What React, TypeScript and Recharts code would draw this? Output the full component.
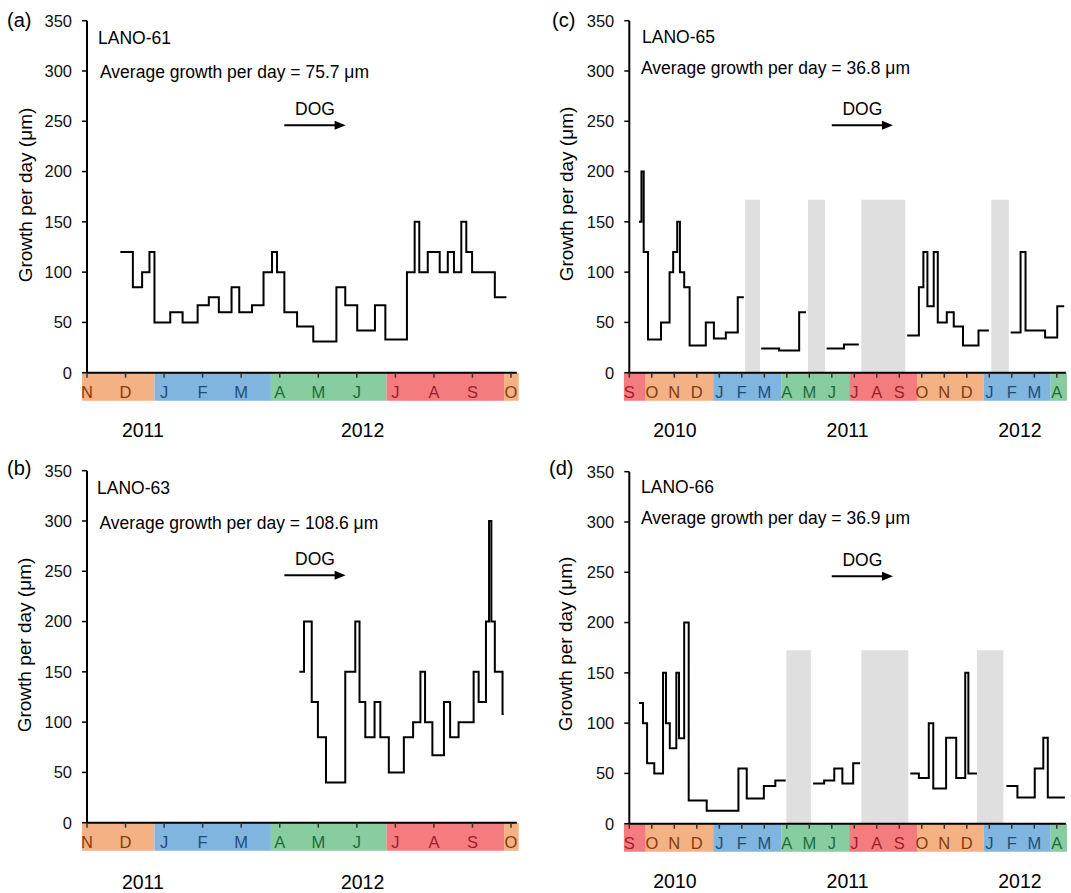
import React from 'react';
import { LineChart, Line, XAxis, YAxis, ReferenceArea, ReferenceLine } from 'recharts';

const FONT = '"Liberation Sans", Arial, Helvetica, sans-serif';

// month letters under each x axis
const monthsAB = ['N', 'D', 'J', 'F', 'M', 'A', 'M', 'J', 'J', 'A', 'S', 'O'];
const monthsCD = ['S', 'O', 'N', 'D', 'J', 'F', 'M', 'A', 'M', 'J', 'J', 'A', 'S', 'O', 'N', 'D', 'J', 'F', 'M', 'A'];

// coloured season strip: edges in month index, one season per strip
const bandEdgesAB = [-0.13, 1.75, 4.77, 7.77, 10.82, 11.2];
const bandSeasonsAB = ['OND', 'JFM', 'AMJ', 'JAS', 'OND'];
const bandEdgesCD = [-0.24, 0.73, 3.73, 6.75, 9.77, 12.79, 15.76, 18.73, 19.45];
const bandSeasonsCD = ['JAS', 'OND', 'JFM', 'AMJ', 'JAS', 'OND', 'JFM', 'AMJ'];

const seasonFill: Record<string, string> = { OND: '#F4B183', JFM: '#7FB5DF', AMJ: '#88CDA0', JAS: '#F47C7F' };
const seasonText: Record<string, string> = { OND: '#843C0C', JFM: '#1F4E79', AMJ: '#1E6B38', JAS: '#A01C28' };

// years under the strips
const yearsAB = ['2011', '2012'];
const yearPosAB = [1.45, 7.15];
const yearsCD = ['2010', '2011', '2012'];
const yearPosCD = [2.03, 9.7, 17.36];

// LANO-61 (step starts, month index -> growth per day)
const aMonths = [0.865, 1.19, 1.43, 1.62, 1.75, 2.16, 2.48, 2.87, 3.16, 3.42, 3.75, 3.95, 4.28, 4.58, 4.8, 4.93, 5.12, 5.45, 5.87, 6.47, 6.7, 7.01, 7.47, 7.74, 8.3, 8.5, 8.62, 8.84, 9.15, 9.36, 9.52, 9.71, 9.84, 9.99, 10.58, 10.88];
const aValues = [120, 85, 100, 120, 50, 60, 50, 67, 75, 60, 85, 60, 67, 100, 120, 100, 60, 46, 31, 85, 67, 42, 67, 33, 100, 150, 100, 120, 100, 120, 100, 150, 120, 100, 75, 75];

// LANO-63
const bMonths = [5.51, 5.63, 5.83, 5.99, 6.2, 6.7, 6.96, 7.07, 7.22, 7.46, 7.61, 7.83, 8.22, 8.46, 8.65, 8.77, 8.96, 9.26, 9.42, 9.64, 10.03, 10.16, 10.35, 10.43, 10.49, 10.58, 10.78, 10.81];
const bValues = [150, 200, 120, 85, 40, 150, 200, 120, 85, 120, 85, 50, 85, 100, 150, 100, 67, 120, 85, 100, 150, 120, 200, 300, 200, 150, 108, 108];

// LANO-65 (null = no record)
const cMonths = [0.43, 0.54, 0.64, 0.83, 1.41, 1.79, 1.95, 2.13, 2.25, 2.44, 2.68, 3.4, 3.76, 4.29, 4.82, 5.09, 5.4,
  5.86, 6.66, 7.55, 7.85, 8.3,
  8.77, 9.54, 10.2, 11,
  12.35, 12.87, 13.07, 13.25, 13.53, 13.71, 14.11, 14.42, 14.83, 15.52, 15.98, 16.4,
  16.95, 17.39, 17.61, 18.48, 19.02, 19.33];
const cValues = [150, 200, 120, 33, 50, 100, 120, 150, 100, 85, 27, 50, 34, 40, 75, 75, null,
  24, 22, 60, 60, null,
  24, 28, 28, null,
  37, 85, 120, 66, 120, 50, 60, 46, 27, 42, 42, null,
  40, 120, 42, 35, 66, 66];
const cGaps = [[5.15, 5.81], [7.94, 8.7], [10.31, 12.27], [16.09, 16.87]];

// LANO-66
const dMonths = [0.43, 0.61, 0.79, 1.11, 1.5, 1.63, 1.8, 2.09, 2.21, 2.44, 2.64, 3.44, 4.85, 5.22, 5.98, 6.49, 6.95, 7.5,
  8.17, 8.66, 9.11, 9.47, 9.95, 10.26, 11,
  12.49, 12.87, 13.31, 13.51, 14.08, 14.53, 14.93, 15.07, 15.45, 16,
  16.76, 17.25, 18.02, 18.4, 18.6, 19.36];
const dValues = [120, 100, 60, 50, 150, 100, 75, 150, 85, 200, 23, 13, 55, 25, 37.5, 43, 43, null,
  40, 43, 55, 40, 60, 60, null,
  50, 45.5, 100, 35, 85.5, 45.5, 150, 50, 50, null,
  37.5, 26, 55, 85.5, 26, 26];
const dGaps = [[6.98, 8.07], [10.31, 12.4], [15.45, 16.63]];

const toRows = (m: number[], v: (number | null)[]) => m.map((x, i) => ({ m: x, v: v[i] }));

const DogArrow = (p: any) => {
  const { x1, y1, x2, y2 } = p;
  return (
    <g>
      <line x1={x1} y1={y1} x2={x2 - 8} y2={y2} stroke="#000" strokeWidth={2} />
      <polygon points={`${x2},${y2} ${x2 - 11},${y2 - 4.5} ${x2 - 11},${y2 + 4.5}`} fill="#000" />
      <text x={(x1 + x2) / 2} y={y1 - 10} textAnchor="middle" fontSize={17.5} fontFamily={FONT} fill="#000">DOG</text>
    </g>
  );
};

const Txt = ({ x, base, size, children, anchor = 'start' }: any) => (
  <div style={{
    position: 'absolute', left: x, top: base - 0.8465 * size, fontSize: size, lineHeight: 1,
    whiteSpace: 'nowrap', color: '#000',
    transform: anchor === 'middle' ? 'translateX(-50%)' : undefined,
  }}>{children}</div>
);

const VTxt = ({ cx, cy, size, children }: any) => (
  <div style={{
    position: 'absolute', left: cx, top: cy, fontSize: size, lineHeight: 1, whiteSpace: 'nowrap',
    transform: 'translate(-50%, -50%) rotate(-90deg)', color: '#000',
  }}>{children}</div>
);

function Panel(props: any) {
  const { left, top, width, mLeft, mRight, xMax, months, edges, seasons, rows, gaps, gapTop, dog } = props;
  const ticks = months.map((_: string, i: number) => i);
  const seasonAt = (i: number) => {
    for (let k = 0; k < seasons.length; k++) if (i >= edges[k] && i < edges[k + 1]) return seasons[k];
    return seasons[seasons.length - 1];
  };
  const MonthTick = (t: any) => {
    const i = t.payload.value;
    return (
      <text x={t.x} y={t.y} dy="0.71em" textAnchor="middle" fontSize={16.5} fontFamily={FONT} fill={seasonText[seasonAt(i)]}>
        {months[i]}
      </text>
    );
  };
  return (
    <div style={{ position: 'absolute', left, top }}>
      <LineChart width={width} height={440} data={rows} margin={{ top: 20.7, right: mRight, bottom: 37.3, left: mLeft }}>
        {seasons.map((s: string, k: number) => (
          <ReferenceArea key={'s' + k} x1={edges[k]} x2={edges[k + 1]} y1={-27.8} y2={0}
            fill={seasonFill[s]} fillOpacity={1} stroke="none" ifOverflow="visible" />
        ))}
        {gaps.map((g: number[], k: number) => (
          <ReferenceArea key={'g' + k} x1={g[0]} x2={g[1]} y1={0} y2={gapTop}
            fill="#DEDFDE" fillOpacity={1} stroke="none" ifOverflow="visible" />
        ))}
        <XAxis dataKey="m" type="number" domain={[0, xMax]} ticks={ticks} interval={0} allowDataOverflow
          height={30} tickSize={5} tickMargin={9} tick={MonthTick}
          axisLine={{ stroke: '#000', strokeWidth: 2 }} tickLine={{ stroke: '#333', strokeWidth: 1.5 }} />
        <YAxis type="number" domain={[0, 350]} ticks={[0, 50, 100, 150, 200, 250, 300, 350]} interval={0}
          width={60} tickSize={5} tickMargin={10}
          tick={{ fontSize: 16.5, fill: '#111', fontFamily: FONT }}
          axisLine={{ stroke: '#000', strokeWidth: 2 }} tickLine={{ stroke: '#000', strokeWidth: 1.5 }} />
        <ReferenceLine segment={[{ x: dog[0], y: dog[2] }, { x: dog[1], y: dog[2] }]} shape={DogArrow} ifOverflow="visible" />
        <Line type="stepAfter" dataKey="v" stroke="#000" strokeWidth={2} dot={false} activeDot={false}
          connectNulls={false} isAnimationActive={false} />
      </LineChart>
    </div>
  );
}

const App = () => {
  const abX = (m: number) => 87 + m * 38.55;
  const cdX = (m: number) => 629.3 + m * 22.5;
  const abCommon = { left: 0, width: 530, mLeft: 27, mRight: 13.2, xMax: 11.15, months: monthsAB, edges: bandEdgesAB, seasons: bandSeasonsAB, gaps: [], gapTop: 0, dog: [5.12, 6.71, 246] };
  const cdCommon = { left: 540, width: 531, mLeft: 29.3, mRight: 5.2, xMax: 19.4, months: monthsCD, edges: bandEdgesCD, seasons: bandSeasonsCD, dog: [9.0, 11.72, 246] };
  return (
    <div style={{ position: 'absolute', left: 0, top: 0, width: 1071, height: 893, background: '#fff', fontFamily: FONT, overflow: 'hidden' }}>
      <Panel {...abCommon} top={0} rows={toRows(aMonths, aValues)} />
      <Panel {...abCommon} top={450} rows={toRows(bMonths, bValues)} />
      <Panel {...cdCommon} top={0} rows={toRows(cMonths, cValues)} gaps={cGaps} gapTop={172} />
      <Panel {...cdCommon} top={450.6} rows={toRows(dMonths, dValues)} gaps={dGaps} gapTop={172.5} />

      <Txt x={7} base={27} size={20}>(a)</Txt>
      <Txt x={98} base={45} size={17.5}>LANO-61</Txt>
      <Txt x={100} base={79} size={17.5}>Average growth per day = 75.7 μm</Txt>
      <VTxt cx={25} cy={195} size={19}>Growth per day (μm)</VTxt>

      <Txt x={7} base={475} size={20}>(b)</Txt>
      <Txt x={97} base={495} size={17.5}>LANO-63</Txt>
      <Txt x={99.5} base={529.5} size={17.5}>Average growth per day = 108.6 μm</Txt>
      <VTxt cx={24} cy={645} size={19}>Growth per day (μm)</VTxt>

      <Txt x={552} base={27} size={20}>(c)</Txt>
      <Txt x={642} base={44} size={17.5}>LANO-65</Txt>
      <Txt x={641} base={74.5} size={17.5}>Average growth per day = 36.8 μm</Txt>
      <VTxt cx={566} cy={194} size={19}>Growth per day (μm)</VTxt>

      <Txt x={549} base={475} size={20}>(d)</Txt>
      <Txt x={641} base={494} size={17.5}>LANO-66</Txt>
      <Txt x={641} base={525} size={17.5}>Average growth per day = 36.9 μm</Txt>
      <VTxt cx={565} cy={644} size={19}>Growth per day (μm)</VTxt>

      {yearsAB.map((y, i) => <Txt key={'ya' + i} x={abX(yearPosAB[i])} base={438} size={19.5} anchor="middle">{y}</Txt>)}
      {yearsAB.map((y, i) => <Txt key={'yb' + i} x={abX(yearPosAB[i])} base={889.5} size={19.5} anchor="middle">{y}</Txt>)}
      {yearsCD.map((y, i) => <Txt key={'yc' + i} x={cdX(yearPosCD[i])} base={438} size={19.5} anchor="middle">{y}</Txt>)}
      {yearsCD.map((y, i) => <Txt key={'yd' + i} x={cdX(yearPosCD[i])} base={889} size={19.5} anchor="middle">{y}</Txt>)}
    </div>
  );
};

export default App;
